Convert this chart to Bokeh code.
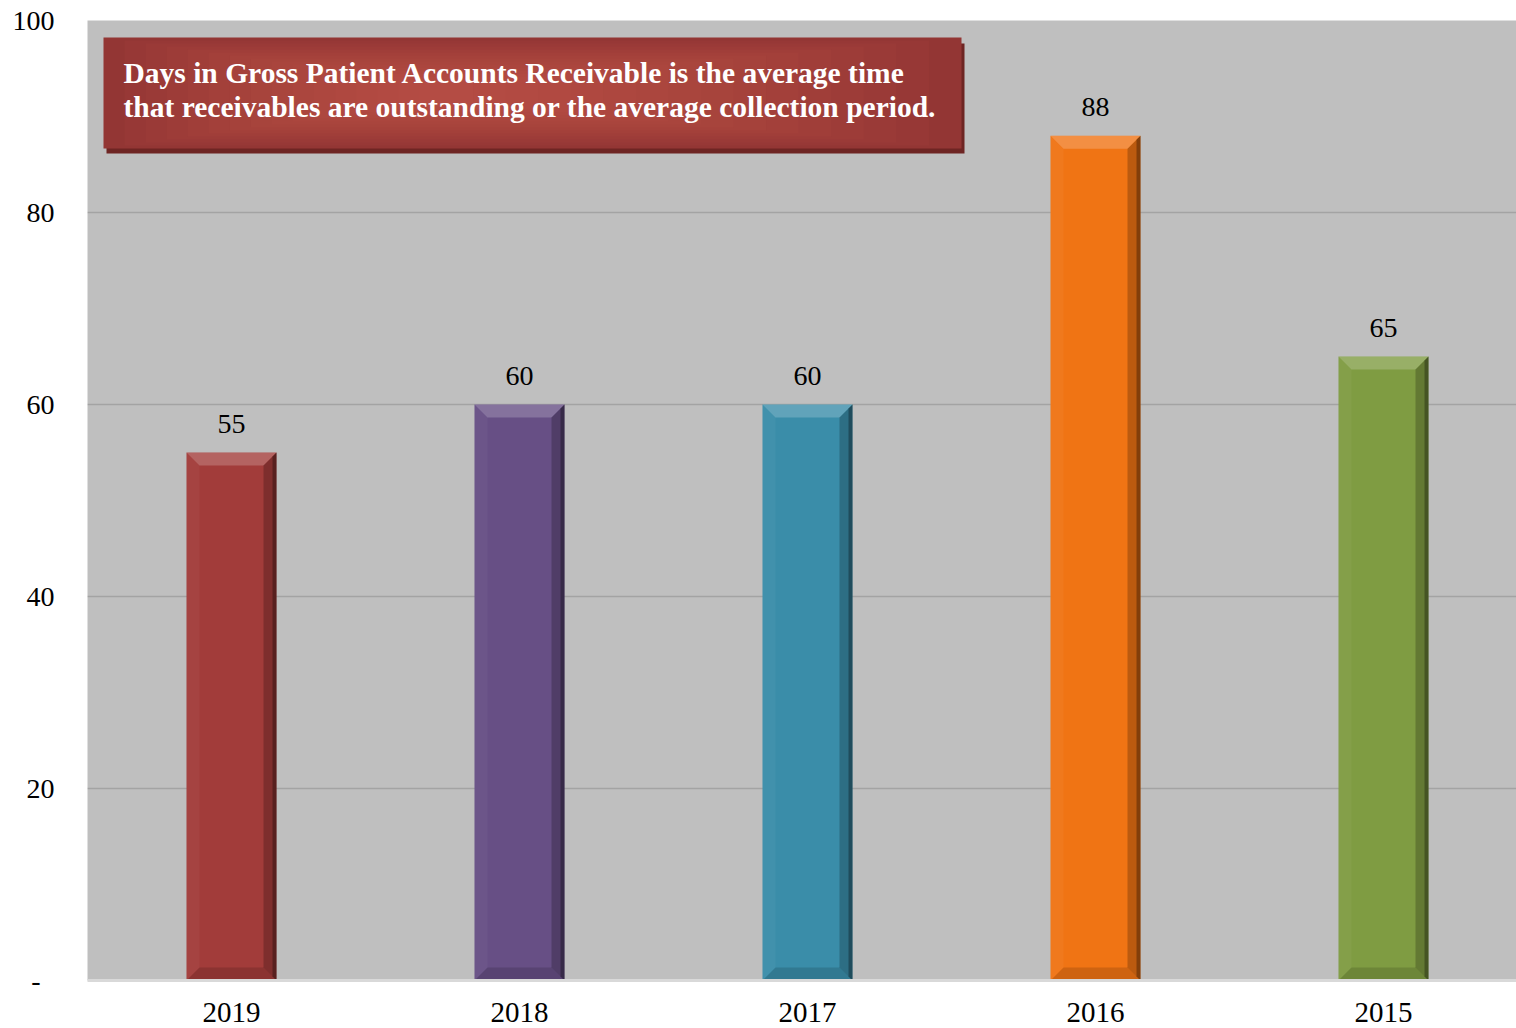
from bokeh.plotting import figure
from bokeh.models import Range1d, FixedTicker, Label
from bokeh.embed import file_html
from bokeh.resources import INLINE
from bokeh.core.properties import value

# ---------------- data ----------------
years = ["2019", "2018", "2017", "2016", "2015"]
days = [55, 60, 60, 88, 65]
bar_colors = ["#A23C3A", "#674F85", "#3A8DA9", "#F07414", "#7F9C42"]
y_ticks = [0, 20, 40, 60, 80, 100]
y_tick_labels = ["-\u00a0\u00a0", "20", "40", "60", "80", "100"]
note_lines = [
    "Days in Gross Patient Accounts Receivable is the average time",
    "that receivables are outstanding or the average collection period.",
]

# ---------------- layout ----------------
W, H = 1516, 1028
LEFT, TOP, BOTTOM = 87, 20, 48
frame_w = W - LEFT
frame_h = H - TOP - BOTTOM
PX_PER_CAT = 288.0
X_START = -0.5
X_END = X_START + frame_w / PX_PER_CAT
Y_MAX = 100
PX_PER_Y = frame_h / Y_MAX
BAR_W = 90 / PX_PER_CAT
FONT = "Liberation Serif"


def px_x(px):  # page pixel x -> data x
    return X_START + (px - LEFT) / PX_PER_CAT


def px_y(py):  # page pixel y -> data y
    return Y_MAX - (py - TOP) / PX_PER_Y


p = figure(width=W, height=H, output_backend="svg", toolbar_location=None,
           x_range=Range1d(X_START, X_END), y_range=Range1d(0, Y_MAX),
           min_border_left=LEFT, min_border_right=0, min_border_top=TOP,
           min_border_bottom=BOTTOM)
p.background_fill_color = "#BFBFBF"
p.border_fill_color = "white"
p.outline_line_color = None

idx = list(range(len(years)))

# bars
p.vbar(x=idx, top=days, bottom=0, width=BAR_W, fill_color=bar_colors, line_color=None)

# bevel overlays
bx = 13 / PX_PER_CAT
by = 13 / PX_PER_Y
top_xs, top_ys, bot_xs, bot_ys, l_xs, l_ys, r_xs, r_ys, e_xs, e_ys = ([] for _ in range(10))
for i, v in zip(idx, days):
    l, r = i - BAR_W / 2, i + BAR_W / 2
    top_xs.append([l, r, r - bx, l + bx]); top_ys.append([v, v, v - by, v - by])
    bot_xs.append([l, r, r - bx, l + bx]); bot_ys.append([0, 0, by, by])
    l_xs.append([l, l + bx, l + bx, l]); l_ys.append([v, v - by, by, 0])
    r_xs.append([r, r - bx, r - bx, r]); r_ys.append([v, v - by, by, 0])
    ex = 4 / PX_PER_CAT
    e_xs.append([r - ex, r, r, r - ex]); e_ys.append([v - by * 0.3, v, 0, by * 0.3])
p.patches(top_xs, top_ys, fill_color="white", fill_alpha=0.2, line_color=None)
p.patches(l_xs, l_ys, fill_color="white", fill_alpha=0.04, line_color=None)
p.patches(r_xs, r_ys, fill_color="black", fill_alpha=0.22, line_color=None)
p.patches(e_xs, e_ys, fill_color="black", fill_alpha=0.3, line_color=None)
p.patches(bot_xs, bot_ys, fill_color="black", fill_alpha=0.14, line_color=None)

# data labels
for i, v in zip(idx, days):
    p.add_layout(Label(x=i, y=v, text=str(v), y_offset=29, text_align="center",
                       text_baseline="alphabetic", text_font=FONT, text_font_size="28px",
                       text_color="black", background_fill_color="#BFBFBF",
                       padding=8))

# note box (shadow + gradient layers)
p.quad(left=[px_x(106)], right=[px_x(964)], top=[px_y(43)], bottom=[px_y(153)],
       fill_color="#6E2523", line_color=None)
p.quad(left=[px_x(103)], right=[px_x(961)], top=[px_y(37)], bottom=[px_y(148)],
       fill_color="#933634", line_color=None)
cx, cy = 440, 92
nl = 16
lefts, rights, tops, bottoms = [], [], [], []
for k in range(1, nl):
    lefts.append(px_x(103 + k * (cx - 103) / nl))
    rights.append(px_x(961 - k * (961 - cx) / nl))
    tops.append(px_y(37 + k * 3.0))
    bottoms.append(px_y(148 - k * 3.0))
p.quad(left=lefts, right=rights, top=tops, bottom=bottoms,
       fill_color="#CC5956", fill_alpha=0.075, line_color=None)

p.text(x=[px_x(123), px_x(123)], y=[px_y(72), px_y(106)], text=note_lines,
       text_font=value(FONT), text_font_style="bold", text_font_size="29.5px",
       text_color="white", text_baseline="alphabetic", text_align="left")

# axes
p.xaxis.ticker = FixedTicker(ticks=idx)
p.xaxis.major_label_overrides = {i: y for i, y in zip(idx, years)}
p.xaxis.major_label_text_font = FONT
p.xaxis.major_label_text_font_size = "29px"
p.xaxis.major_label_text_color = "black"
p.xaxis.major_label_standoff = 16
p.xaxis.axis_line_color = "#D9D9D9"
p.xaxis.axis_line_width = 3
p.xaxis.major_tick_line_color = None
p.xaxis.minor_tick_line_color = None

p.yaxis.ticker = FixedTicker(ticks=y_ticks)
p.yaxis.major_label_overrides = {t: s for t, s in zip(y_ticks, y_tick_labels)}
p.yaxis.major_label_text_font = FONT
p.yaxis.major_label_text_font_size = "28px"
p.yaxis.major_label_text_color = "black"
p.yaxis.major_label_standoff = 27
p.yaxis.axis_line_color = None
p.yaxis.major_tick_line_color = None
p.yaxis.minor_tick_line_color = None

p.xgrid.grid_line_color = None
p.ygrid.ticker = FixedTicker(ticks=y_ticks[1:])
p.ygrid.grid_line_color = "#A3A3A3"
p.ygrid.grid_line_width = 1.5

open("out.html", "w").write(file_html(p, INLINE))
